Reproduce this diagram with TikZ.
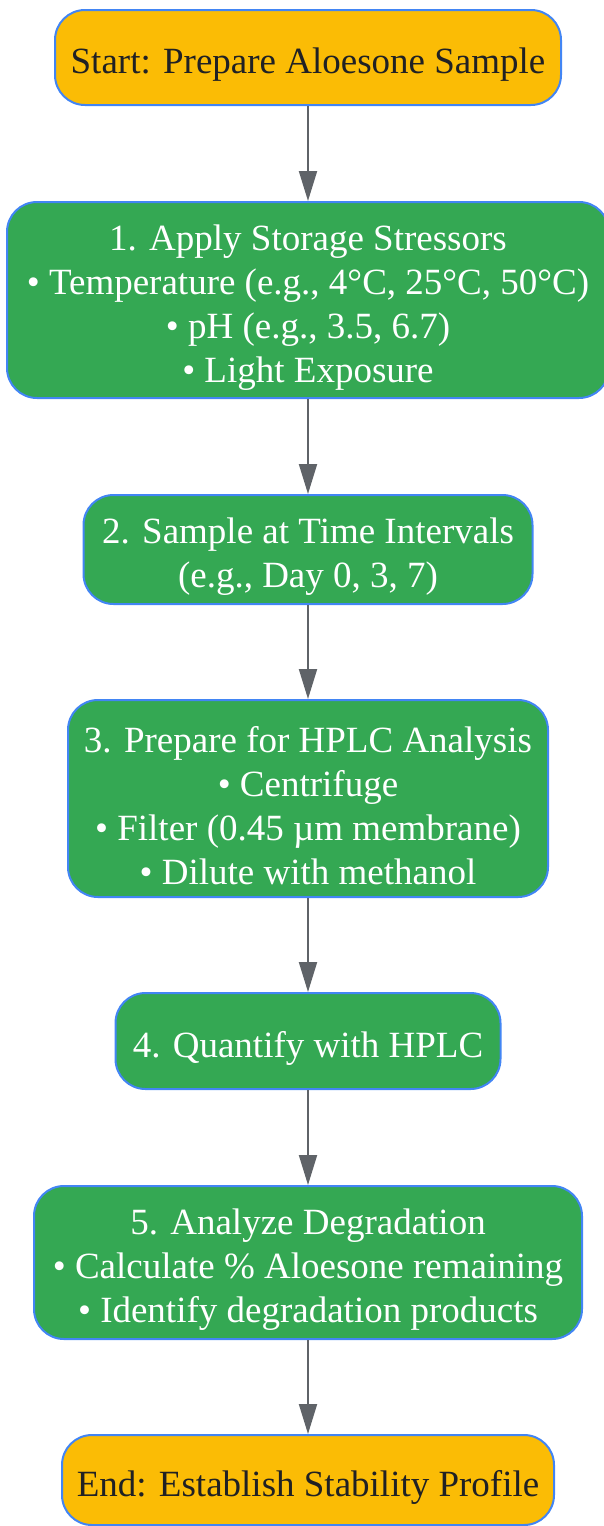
\documentclass[tikz,border=0pt]{standalone}
\usepackage{fontspec}
\setmainfont{Liberation Serif}
\usetikzlibrary{arrows.meta}
\definecolor{startyellow}{HTML}{FBBC05}
\definecolor{stepgreen}{HTML}{34A853}
\definecolor{edgeblue}{HTML}{4285F4}
\definecolor{arrowgray}{HTML}{5F6368}
\definecolor{darktext}{HTML}{202124}
\newcommand{\toprow}{\rule{0pt}{40pt}}
\tikzset{
  boxbase/.style={draw=edgeblue, line width=2pt, rounded corners=30pt, align=center, font=\fontsize{37}{44}\selectfont},
  endbox/.style={boxbase, fill=startyellow, text=darktext},
  stepbox/.style={boxbase, fill=stepgreen, text=white},
  flow/.style={->, draw=arrowgray, line width=2pt}
}
\begin{document}
\begin{tikzpicture}[>={Triangle[width=18pt,length=30pt]}, x=1pt, y=-1pt]
\useasboundingbox (0,0) rectangle (604,1526);
% Blocos
\node[endbox, minimum width=506pt, minimum height=95pt] (start) at (308,57.5) {\toprow Start: Prepare Aloesone Sample};
\node[stepbox, minimum width=602pt, minimum height=196pt] (stress) at (308,300) {\toprow 1. Apply Storage Stressors\\• Temperature (e.g., 4°C, 25°C, 50°C)\\• pH (e.g., 3.5, 6.7)\\• Light Exposure};
\node[stepbox, minimum width=449pt, minimum height=109pt] (sample) at (308,549.5) {\toprow 2. Sample at Time Intervals\\(e.g., Day 0, 3, 7)};
\node[stepbox, minimum width=480pt, minimum height=197pt] (prep) at (308,798.5) {\toprow 3. Prepare for HPLC Analysis\\• Centrifuge\\• Filter (0.45 µm membrane)\\• Dilute with methanol};
\node[stepbox, minimum width=385pt, minimum height=96pt] (hplc) at (308,1041) {\toprow 4. Quantify with HPLC};
\node[stepbox, minimum width=548pt, minimum height=153pt] (analyze) at (308,1262.5) {\toprow 5. Analyze Degradation\\• Calculate \% Aloesone remaining\\• Identify degradation products};
\node[endbox, minimum width=492pt, minimum height=90pt] (finish) at (308,1480) {\toprow End: Establish Stability Profile};

% Conexões
\draw[flow] (start.south) -- (stress.north);
\draw[flow] (stress.south) -- (sample.north);
\draw[flow] (sample.south) -- (prep.north);
\draw[flow] (prep.south) -- (hplc.north);
\draw[flow] (hplc.south) -- (analyze.north);
\draw[flow] (analyze.south) -- (finish.north);
\end{tikzpicture}
\end{document}
